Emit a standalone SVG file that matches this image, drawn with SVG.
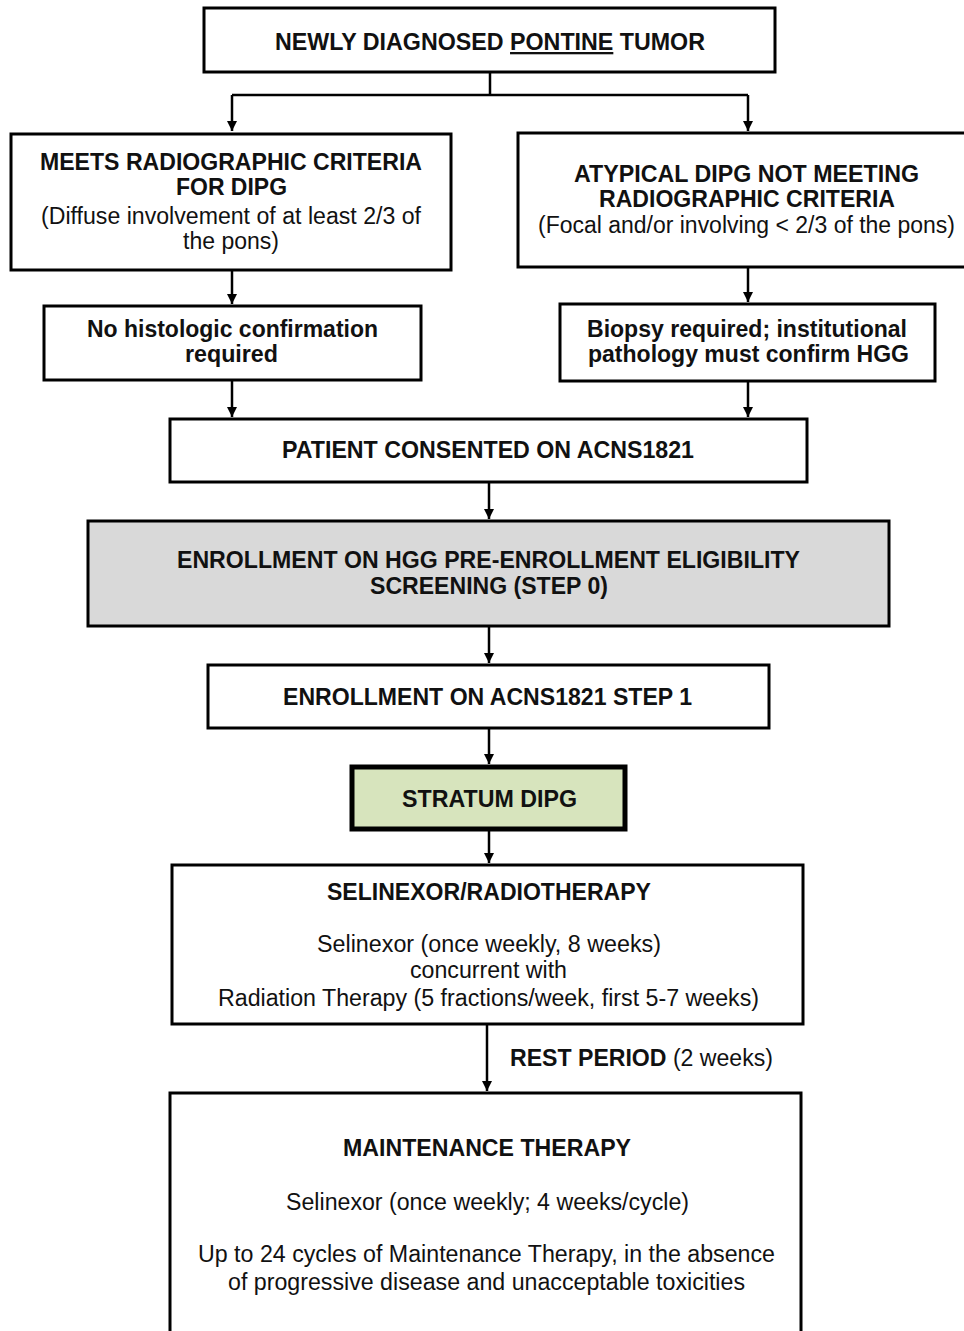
<svg xmlns="http://www.w3.org/2000/svg" width="964" height="1331" viewBox="0 0 964 1331">
<defs>
<style>
.box{fill:#ffffff;stroke:#000000;stroke-width:3}
.grey{fill:#d9d9d9;stroke:#000000;stroke-width:3}
.green{fill:#d7e4bd;stroke:#000000;stroke-width:5}
.b{font-family:"Liberation Sans",Arial,sans-serif;font-size:23px;font-weight:bold;fill:#111111;text-anchor:middle}
.r{font-family:"Liberation Sans",Arial,sans-serif;font-size:23px;font-weight:normal;fill:#111111;text-anchor:middle}
.c{fill:none;stroke:#000000;stroke-width:2.5}
</style>
<marker id="ah" viewBox="0 0 10 10" refX="10" refY="5" markerWidth="4" markerHeight="4" markerUnits="strokeWidth" orient="auto">
<path d="M0,0 L10,5 L0,10 z" fill="#000000"/>
</marker>
</defs>
<rect width="964" height="1331" fill="#ffffff"/>

<g id="connectors">
<path class="c" d="M490,72 V95 M232,95 H748"/>
<path class="c" d="M232,95 V131" marker-end="url(#ah)"/>
<path class="c" d="M748,95 V131" marker-end="url(#ah)"/>
<path class="c" d="M232,270 V304" marker-end="url(#ah)"/>
<path class="c" d="M748,268 V302" marker-end="url(#ah)"/>
<path class="c" d="M232,380 V417" marker-end="url(#ah)"/>
<path class="c" d="M748,381 V417" marker-end="url(#ah)"/>
<path class="c" d="M489,482 V519" marker-end="url(#ah)"/>
<path class="c" d="M489,626 V663" marker-end="url(#ah)"/>
<path class="c" d="M489,728 V764" marker-end="url(#ah)"/>
<path class="c" d="M489,831 V863" marker-end="url(#ah)"/>
<path class="c" d="M487,1024 V1091" marker-end="url(#ah)"/>
<text x="510" y="1066" style="font-family:'Liberation Sans',Arial,sans-serif;font-size:23px;fill:#111111" textLength="263" lengthAdjust="spacingAndGlyphs"><tspan font-weight="bold">REST PERIOD</tspan> (2 weeks)</text>
</g>

<g id="n-top">
<rect class="box" x="204" y="8" width="571" height="64"/>
<text class="b" x="490" y="50" textLength="430" lengthAdjust="spacingAndGlyphs">NEWLY DIAGNOSED <tspan text-decoration="underline">PONTINE</tspan> TUMOR</text>
</g>

<g id="n-meets">
<rect class="box" x="11" y="134" width="440" height="136"/>
<text class="b" x="231" y="170" textLength="382" lengthAdjust="spacingAndGlyphs">MEETS RADIOGRAPHIC CRITERIA</text>
<text class="b" x="231.5" y="195" textLength="111" lengthAdjust="spacingAndGlyphs">FOR DIPG</text>
<text class="r" x="231" y="224" textLength="380" lengthAdjust="spacingAndGlyphs">(Diffuse involvement of at least 2/3 of</text>
<text class="r" x="231" y="249" textLength="96" lengthAdjust="spacingAndGlyphs">the pons)</text>
</g>

<g id="n-atypical">
<rect class="box" x="518" y="133" width="452" height="134"/>
<text class="b" x="746.5" y="182" textLength="345" lengthAdjust="spacingAndGlyphs">ATYPICAL DIPG NOT MEETING</text>
<text class="b" x="747" y="207" textLength="296" lengthAdjust="spacingAndGlyphs">RADIOGRAPHIC CRITERIA</text>
<text class="r" x="746.5" y="233" textLength="417" lengthAdjust="spacingAndGlyphs">(Focal and/or involving &lt; 2/3 of the pons)</text>
</g>

<g id="n-nohisto">
<rect class="box" x="44" y="306" width="377" height="74"/>
<text class="b" x="232.5" y="337" textLength="291" lengthAdjust="spacingAndGlyphs">No histologic confirmation</text>
<text class="b" x="231.5" y="362" textLength="93" lengthAdjust="spacingAndGlyphs">required</text>
</g>

<g id="n-biopsy">
<rect class="box" x="560" y="304" width="375" height="77"/>
<text class="b" x="747" y="337" textLength="320" lengthAdjust="spacingAndGlyphs">Biopsy required; institutional</text>
<text class="b" x="748.5" y="362" textLength="321" lengthAdjust="spacingAndGlyphs">pathology must confirm HGG</text>
</g>

<g id="n-consent">
<rect class="box" x="170" y="419" width="637" height="63"/>
<text class="b" x="488" y="458" textLength="412" lengthAdjust="spacingAndGlyphs">PATIENT CONSENTED ON ACNS1821</text>
</g>

<g id="n-step0">
<rect class="grey" x="88" y="521" width="801" height="105"/>
<text class="b" x="488.5" y="568" textLength="623" lengthAdjust="spacingAndGlyphs">ENROLLMENT ON HGG PRE-ENROLLMENT ELIGIBILITY</text>
<text class="b" x="489" y="594" textLength="238" lengthAdjust="spacingAndGlyphs">SCREENING (STEP 0)</text>
</g>

<g id="n-step1">
<rect class="box" x="208" y="665" width="561" height="63"/>
<text class="b" x="487.5" y="705" textLength="409" lengthAdjust="spacingAndGlyphs">ENROLLMENT ON ACNS1821 STEP 1</text>
</g>

<g id="n-stratum">
<rect class="green" x="352" y="767" width="273" height="62"/>
<text class="b" x="489.5" y="807" textLength="175" lengthAdjust="spacingAndGlyphs">STRATUM DIPG</text>
</g>

<g id="n-selinexor">
<rect class="box" x="172" y="865" width="631" height="159"/>
<text class="b" x="489" y="900" textLength="324" lengthAdjust="spacingAndGlyphs">SELINEXOR/RADIOTHERAPY</text>
<text class="r" x="489" y="952" textLength="344" lengthAdjust="spacingAndGlyphs">Selinexor (once weekly, 8 weeks)</text>
<text class="r" x="488.5" y="978" textLength="157" lengthAdjust="spacingAndGlyphs">concurrent with</text>
<text class="r" x="488.5" y="1006" textLength="541" lengthAdjust="spacingAndGlyphs">Radiation Therapy (5 fractions/week, first 5-7 weeks)</text>
</g>

<g id="n-maintenance">
<rect class="box" x="170" y="1093" width="631" height="260"/>
<text class="b" x="487" y="1156" textLength="288" lengthAdjust="spacingAndGlyphs">MAINTENANCE THERAPY</text>
<text class="r" x="487.5" y="1210" textLength="403" lengthAdjust="spacingAndGlyphs">Selinexor (once weekly; 4 weeks/cycle)</text>
<text class="r" x="486.5" y="1262" textLength="577" lengthAdjust="spacingAndGlyphs">Up to 24 cycles of Maintenance Therapy, in the absence</text>
<text class="r" x="486.5" y="1290" textLength="517" lengthAdjust="spacingAndGlyphs">of progressive disease and unacceptable toxicities</text>
</g>
</svg>
